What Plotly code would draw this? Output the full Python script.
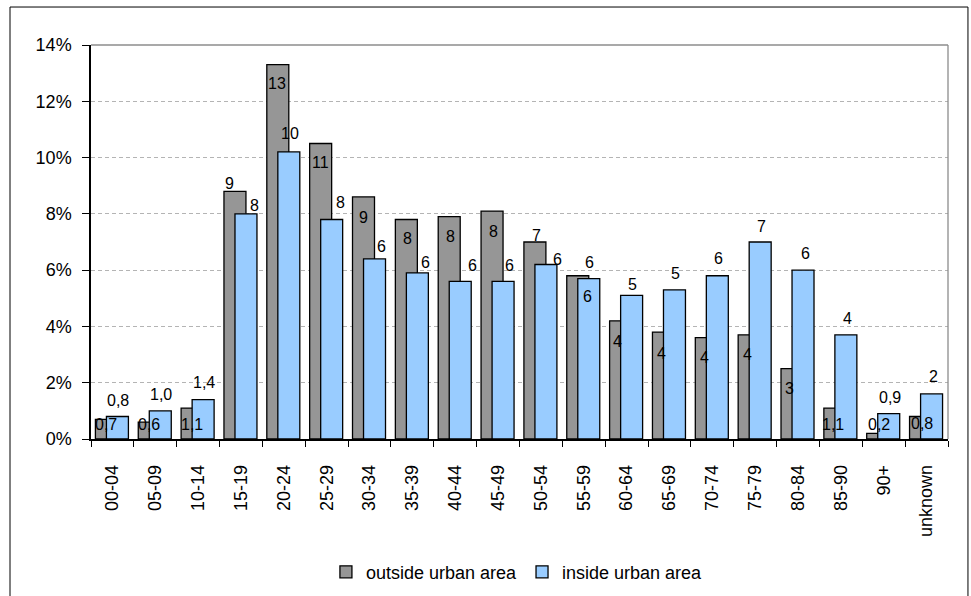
import math
import plotly.graph_objects as go

# Age groups and share of cases (%) by residence
age_groups = ["00-04", "05-09", "10-14", "15-19", "20-24", "25-29", "30-34",
              "35-39", "40-44", "45-49", "50-54", "55-59", "60-64", "65-69",
              "70-74", "75-79", "80-84", "85-90", "90+", "unknown"]
outside_urban = [0.7, 0.6, 1.1, 8.8, 13.3, 10.5, 8.6, 7.8, 7.9, 8.1, 7.0, 5.8,
                 4.2, 3.8, 3.6, 3.7, 2.5, 1.1, 0.2, 0.8]
inside_urban = [0.8, 1.0, 1.4, 8.0, 10.2, 7.8, 6.4, 5.9, 5.6, 5.6, 6.2, 5.7,
                5.1, 5.3, 5.8, 7.0, 6.0, 3.7, 0.9, 1.6]
y_ticks = [0, 2, 4, 6, 8, 10, 12, 14]

# Label placement (pixel offsets from the category centre / bar top)
out_dx = [-6, -6, -6, -11, -7, -6, -6, -5, -5, -5, -4, 6, -9, -8, -8, -8, -9, -8, -5, -5]
out_dy = [-5, -2, -16, 8, -19, -19, -21, -19, -20, -20, 7, 13, -21, -21, -20, -20, -20, -16, 9, -7]
in_dx = [6, 6, 6, 14, 6, 14, 12, 13, 17, 11, 17, 4, 6, 6, 6, 6, 7, 7, 6, 7]
in_dy = [16, 16, 17, 8, 18, 17, 12, 10, 16, 16, 5, -18, 11, 16, 17, 16, 17, 16, 16, 17]


def fmt(v):
    # small shares keep one decimal (comma separator), others are rounded
    if v < 1.5:
        return f"{v:.1f}".replace(".", ",")
    return str(int(math.floor(v + 0.5)))


FONT = "Liberation Sans, Arial, sans-serif"
BAR_W = 0.513

fig = go.Figure()
fig.add_trace(go.Bar(
    x=age_groups, y=outside_urban, name="outside urban area",
    marker=dict(color="#969696", line=dict(color="#000000", width=1.3)),
    width=BAR_W, offset=-0.397,
))
fig.add_trace(go.Bar(
    x=age_groups, y=inside_urban, name="inside urban area",
    marker=dict(color="#99CCFF", line=dict(color="#000000", width=1.3)),
    width=BAR_W, offset=-0.14,
))

annotations = []
for i, cat in enumerate(age_groups):
    annotations.append(dict(x=cat, y=outside_urban[i], xref="x", yref="y",
                            text=fmt(outside_urban[i]), showarrow=False,
                            xshift=out_dx[i], yshift=out_dy[i],
                            xanchor="center", yanchor="middle",
                            font=dict(family=FONT, size=16, color="#000000")))
    annotations.append(dict(x=cat, y=inside_urban[i], xref="x", yref="y",
                            text=fmt(inside_urban[i]), showarrow=False,
                            xshift=in_dx[i], yshift=in_dy[i],
                            xanchor="center", yanchor="middle",
                            font=dict(family=FONT, size=16, color="#000000")))

shapes = [
    # grey top and right edges of the plot area
    dict(type="line", xref="paper", yref="paper", x0=0, x1=1, y0=1, y1=1,
         line=dict(color="#8c8c8c", width=1.3)),
    dict(type="line", xref="paper", yref="paper", x0=1, x1=1, y0=0, y1=1,
         line=dict(color="#8c8c8c", width=1.3)),
    # outer chart frame
    dict(type="line", xref="paper", yref="paper", x0=-0.0945, x1=-0.0945,
         y0=-0.45, y1=1.0964, line=dict(color="#000000", width=1)),
    dict(type="line", xref="paper", yref="paper", x0=-0.0945, x1=1.0233,
         y0=1.0964, y1=1.0964, line=dict(color="#000000", width=1)),
    dict(type="line", xref="paper", yref="paper", x0=1.0233, x1=1.0233,
         y0=-0.45, y1=1.0964, line=dict(color="#000000", width=1)),
]

fig.update_layout(
    width=971, height=596,
    margin=dict(l=91, r=23, t=45, b=157, autoexpand=False),
    paper_bgcolor="#ffffff", plot_bgcolor="#ffffff",
    barmode="overlay",
    font=dict(family=FONT, size=16, color="#000000"),
    showlegend=True,
    legend=dict(orientation="h", x=0.497, xanchor="center", y=-0.338,
                yanchor="middle", font=dict(family=FONT, size=18),
                itemwidth=30, tracegroupgap=0),
    annotations=annotations,
    shapes=shapes,
)
fig.update_xaxes(
    type="category", categoryorder="array", categoryarray=age_groups,
    tickson="boundaries", ticks="outside", ticklen=6, tickcolor="#000000",
    tickwidth=1.3, tickangle=-90, tickfont=dict(family=FONT, size=18),
    ticklabelstandoff=17, automargin=False,
    showline=True, linecolor="#000000", linewidth=1.5, showgrid=False,
    range=[-0.5, len(age_groups) - 0.5],
)
fig.update_yaxes(
    range=[0, 14], tickvals=y_ticks, ticktext=[f"{t}%" for t in y_ticks],
    ticks="outside", ticklen=7, tickcolor="#000000", tickwidth=1.3,
    tickfont=dict(family=FONT, size=18), ticklabelstandoff=7, automargin=False,
    showline=True, linecolor="#000000", linewidth=1.5,
    showgrid=True, gridcolor="#b4b4b4", gridwidth=1, griddash="4px,3px",
    zeroline=False,
)

fig.write_html("out.html")
